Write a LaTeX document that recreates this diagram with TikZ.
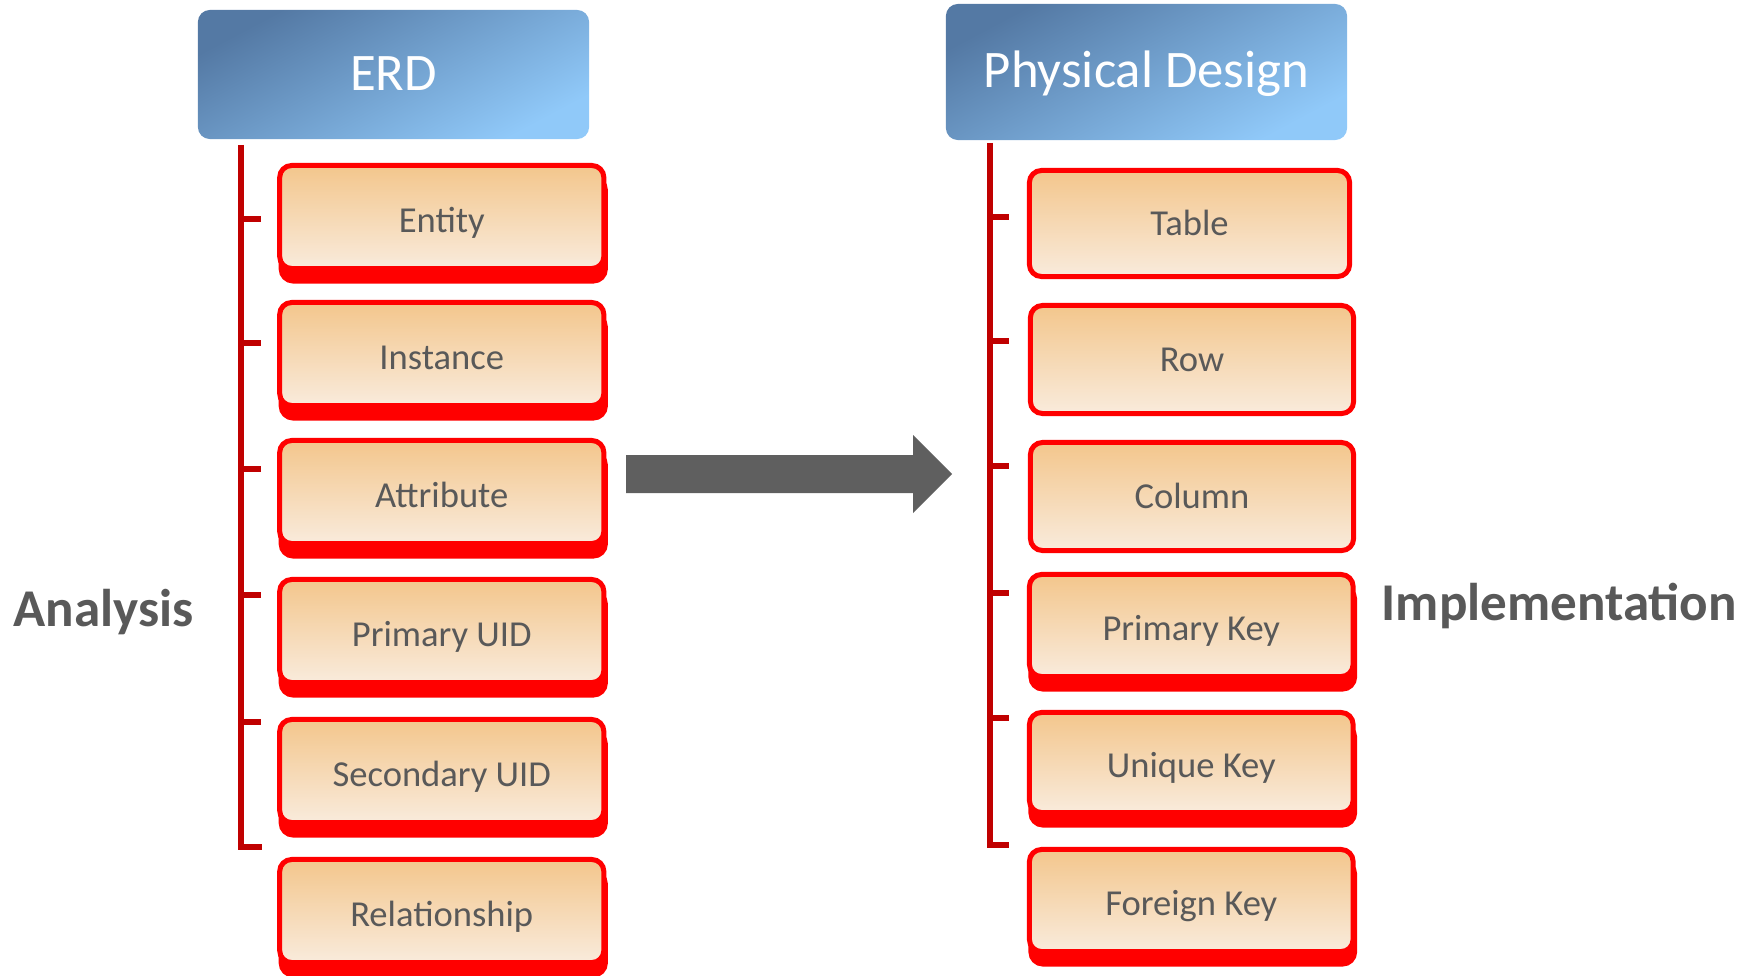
\documentclass[tikz,border=0pt]{standalone}
\usepackage{fontspec}
\setmainfont{Carlito}

\definecolor{boxred}{HTML}{FF0000}
\definecolor{brred}{HTML}{C00000}
\definecolor{itemtop}{HTML}{F3C68C}
\definecolor{itembot}{HTML}{F9EBDC}
\definecolor{hdrdark}{HTML}{5479A4}
\definecolor{hdrlight}{HTML}{90C9F9}
\definecolor{txtgray}{HTML}{595959}
\definecolor{arrgray}{HTML}{5F5F5F}

\tikzset{
    headbox/.style={rounded corners=0.12cm, top color=hdrdark, bottom color=hdrlight,
        shading angle=28, text=white, font=\fontsize{15}{18}\selectfont,
        text height=9.0pt, text depth=0pt, inner sep=0pt},
    itembox/.style={draw=boxred, line width=0.05cm, rounded corners=0.12cm,
        top color=itemtop, bottom color=itembot, text=txtgray,
        font=\fontsize{10.4}{12}\selectfont, text height=6.7pt, text depth=0pt, inner sep=0pt},
    itemsh/.style={itembox, text height=8.7pt, preaction={draw=boxred, fill=boxred, line width=0.05cm,
        transform canvas={shift={(0.015cm,-0.125cm)}}}},
    leftbox/.style={itemsh, minimum width=3.24cm, minimum height=1.03cm},
    brk/.style={draw=brred, line width=0.065cm},
    side/.style={anchor=base west, inner sep=0pt, text=txtgray, font=\fontsize{15.1}{18}\selectfont\bfseries}
}

\begin{document}
\begin{tikzpicture}[x=0.01cm, y=-0.01cm]
    \useasboundingbox (0,0) rectangle (1758,976);

    % headers
    \node[headbox, minimum width=3.91cm, minimum height=1.29cm] (erd) at (393.5,74.5) {ERD};
    \node[headbox, minimum width=4.01cm, minimum height=1.36cm] (phys) at (1146.5,72) {Physical Design};

    % ERD side
    \node[leftbox] (entity) at (441.75,217) {Entity};
    \node[leftbox] (instance) at (441.75,354) {Instance};
    \node[leftbox] (attribute) at (441.75,492) {Attribute};
    \node[leftbox] (primuid) at (441.75,631) {Primary UID};
    \node[leftbox] (secuid) at (441.75,771) {Secondary UID};
    \node[leftbox] (relship) at (441.75,911) {Relationship};

    % physical side
    \node[itembox, minimum width=3.20cm, minimum height=1.06cm] (table) at (1189.5,223.5) {Table};
    \node[itembox, minimum width=3.23cm, minimum height=1.08cm] (row) at (1192,359.5) {Row};
    \node[itembox, minimum width=3.23cm, minimum height=1.08cm] (column) at (1192,496.5) {Column};
    \node[itemsh, minimum width=3.235cm, minimum height=1.02cm] (primkey) at (1191.25,625.5) {Primary Key};
    \node[itemsh, minimum width=3.235cm, minimum height=1.00cm] (uniqkey) at (1191.25,762.5) {Unique Key};
    \node[itemsh, minimum width=3.235cm, minimum height=1.02cm] (forkey) at (1191.25,900.5) {Foreign Key};

    % brackets
    \draw[brk] (241,145) -- (241,847) -- (262,847);
    \foreach \y in {219,343,469,595,722}
        \draw[brk] (241,\y) -- (261,\y);
    \draw[brk] (990,143) -- (990,845) -- (1009,845);
    \foreach \y in {217,341,466,593,718}
        \draw[brk] (990,\y) -- (1009,\y);

    % big arrow
    \fill[arrgray] (626,455) -- (913,455) -- (913,435) -- (952,474) -- (913,513) -- (913,493) -- (626,493) -- cycle;

    \node[side] (analysis) at (13,626) {Analysis};
    \node[side] (impl) at (1381,620) {Implementation};
\end{tikzpicture}
\end{document}
